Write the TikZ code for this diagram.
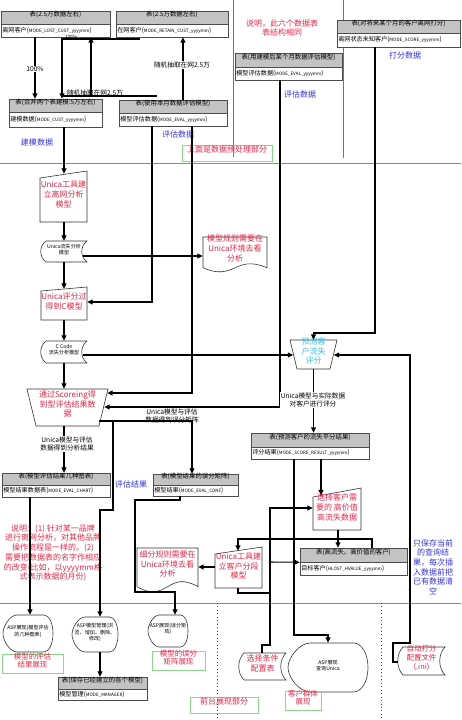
\documentclass[tikz,border=0pt]{standalone}
\usepackage{fontspec}
\setmainfont{Noto Sans CJK SC}
\usetikzlibrary{arrows.meta,fit,calc}
\definecolor{cred}{RGB}{226,40,72}
\definecolor{cblue}{RGB}{50,50,215}
\definecolor{cgreen}{RGB}{140,215,140}
\definecolor{ccyan}{RGB}{60,190,225}
\definecolor{cline}{RGB}{228,95,105}
\definecolor{cpurp}{RGB}{105,105,200}
\definecolor{chead}{RGB}{195,195,195}
\newcommand\mm[1]{{\fontsize{3.4}{4}\selectfont #1}}
\newcommand\TableBox[8]{%
  \node[thead,fit={(#2,#3)(#4,#5)}] (#1h) {#7};
  \node[tbody,fit={(#2,#5)(#4,#6)}] (#1) {};
  \node[tbtext,anchor=west] (#1t) at ([xshift=1pt]#1.west) {#8};}
\newcommand\MIShape[5]{\draw[outl] (#1,#2) -- (#3,#4) -- (#3,#5) -- (#1,#5) -- cycle;}
\newcommand\MOShape[6]{\draw[outl] (#1,#3) -- (#2,#3) -- (#5,#6) -- (#4,#6) -- cycle;}
\newcommand\StoredShape[4]{%
  \draw[outl] ({#1+5},#2) -- (#3,#2) .. controls ({#3-7},{#2+0.25*(#4-#2)}) and ({#3-7},{#4-0.25*(#4-#2)}) .. (#3,#4) -- ({#1+5},#4) .. controls ({#1-2},{#4-0.25*(#4-#2)}) and ({#1-2},{#2+0.25*(#4-#2)}) .. ({#1+5},#2) -- cycle;}
\newcommand\DocShape[4]{%
  \draw[outl] (#1,#2) -- (#3,#2) -- (#3,{#4-0.12*(#4-#2)}) .. controls ({(#1+#3)/2},{#4-0.52*(#4-#2)}) and ({(#1+#3)/2},{#4+0.28*(#4-#2)}) .. (#1,{#4-0.12*(#4-#2)}) -- cycle;}
\newcommand\DispShape[4]{%
  \draw[outl] (#1,{(#2+#4)/2}) .. controls (#1,{(#2+#4)/2-0.2*(#4-#2)}) and ({#1+0.14*(#3-#1)},#2) .. ({#1+0.28*(#3-#1)},#2) -- ({#3-0.18*(#3-#1)},#2) .. controls ({#3-0.08*(#3-#1)},#2) and (#3,{(#2+#4)/2-0.28*(#4-#2)}) .. (#3,{(#2+#4)/2}) .. controls (#3,{(#2+#4)/2+0.28*(#4-#2)}) and ({#3-0.08*(#3-#1)},#4) .. ({#3-0.18*(#3-#1)},#4) -- ({#1+0.28*(#3-#1)},#4) .. controls ({#1+0.14*(#3-#1)},#4) and (#1,{(#2+#4)/2+0.2*(#4-#2)}) .. (#1,{(#2+#4)/2}) -- cycle;}
\begin{document}
\begin{tikzpicture}[x=0.75pt,y=-0.75pt,
  thead/.style={draw=black!70,line width=0.4pt,fill=chead,inner sep=0pt,font=\fontsize{4.8}{5.5}\selectfont},
  tbody/.style={draw=black!70,line width=0.4pt,fill=white,inner sep=0pt},
  tbtext/.style={inner sep=0pt,font=\fontsize{4.6}{5.5}\selectfont},
  redtxt/.style={text=cred,align=center,font=\fontsize{6}{7.3}\selectfont,inner sep=0pt},
  cyantxt/.style={text=ccyan,align=center,font=\fontsize{6}{7.3}\selectfont,inner sep=0pt},
  bluetxt/.style={text=cblue,align=center,font=\fontsize{6}{7.2}\selectfont,inner sep=0pt},
  smalltxt/.style={align=center,font=\fontsize{3.8}{4.8}\selectfont,inner sep=0pt},
  outl/.style={draw=black!80,line width=0.45pt,fill=white},
  arr/.style={-{Triangle[length=4pt,width=3.6pt]},line width=0.8pt},
  conn/.style={line width=0.8pt},
  gbox/.style={draw=cgreen,line width=0.6pt,text=cred,align=center,font=\fontsize{5.6}{6.1}\selectfont,inner sep=0pt},
  lbl/.style={font=\fontsize{5}{6}\selectfont,align=center,inner sep=0.4pt}]
\useasboundingbox (0,0) rectangle (461,720);
% guide lines
\draw[cpurp,line width=0.5pt] (233,0) -- (233,157);
\draw[cpurp,line width=0.5pt] (343,0) -- (343,158);
\draw[cline,line width=0.5pt] (0,163) -- (461,163);
\draw[cline,line width=0.5pt] (0,603) -- (461,603);
\draw[cblue,dotted,line width=0.6pt] (217,603) -- (217,720);
\draw[cblue,dotted,line width=0.6pt] (381,603) -- (381,720);
% tables
\TableBox{b1}{1}{11}{110}{24}{37}{表(2.5万数据左右)}{离网客户(\mm{MODE\_LOST\_CUST\_yyyymm})}
\TableBox{b2}{116}{11}{228}{24}{37}{表(2.5万数据左右)}{在网客户(\mm{MODE\_RETAIN\_CUST\_yyyymm})}
\TableBox{b3}{9}{99}{102}{112}{127}{表(合并两个表建模:5万左右)}{建模数据(\mm{MODE\_CUST\_yyyymm})}
\TableBox{b4}{119}{100}{227}{113}{126}{表(使用本月数据评估模型)}{模型评估数据(\mm{MODE\_EVAL\_yyyymm})}
\TableBox{b5}{235}{53}{342}{67}{80}{表(用建模后某个月数据评估模型)}{模型评估数据(\mm{MODE\_EVAL\_yyyymm})}
\TableBox{b6}{337}{20}{460}{33}{47}{表(对将来某个月的客户离网打分)}{离网状态未知客户(\mm{MODE\_SCORE\_yyyymm})}
\TableBox{b7}{2}{473}{110}{485}{497}{表(模型评估结果几种图表)}{模型结果数据表(\mm{MODE\_EVAL\_CHART})}
\TableBox{b8}{153}{474}{238}{485}{496}{表(模型结果的误分矩阵)}{模型结果(\mm{MODE\_EVAL\_CONF})}
\TableBox{b9}{251}{433}{369}{447}{459}{表(预测客户的流失平分结果)}{评分结果(\mm{MODE\_SCORE\_RESULT\_yyyymm})}
\TableBox{b10}{300}{548}{407}{562}{575}{表(高流失、高价值的客户)}{目标客户(\mm{HLOST\_HVALUE\_yyyymm})}
\TableBox{b11}{58}{677}{147}{689}{700}{表(保存已经建立的各个模型)}{模型管理(\mm{MODE\_MANAGER})}
% shape outlines
\MIShape{40}{178}{87}{171}{222}
\StoredShape{41}{241}{87}{262}
\MIShape{41}{291}{87}{287}{320}
\StoredShape{41}{341}{87}{363}
\MOShape{27}{108}{389}{36}{99}{426}
\DocShape{203}{237}{267}{272}
\MOShape{290}{337}{340}{297}{330}{369}
\MIShape{313}{497}{361}{488}{530}
\MIShape{215}{554}{262}{547}{588}
\DocShape{137}{548}{198}{592}
\DispShape{3}{615}{53}{652}
\DispShape{72}{617}{118}{652}
\DispShape{148}{615}{188}{647}
\DispShape{288}{643}{368}{692}
\StoredShape{239}{653}{286}{680}
\StoredShape{398}{647}{445}{675}
% shape texts
\node[redtxt,fit={(40,174)(87,222)}] (u1) {Unica工具建\\立离网分析\\模型};
\node[smalltxt,fit={(41,241)(87,262)}] (s1) {Unica流失分析\\模型};
\node[redtxt,fit={(41,289)(87,320)}] (u2) {Unica评分过\\得到C模型};
\node[smalltxt,fit={(41,341)(87,363)}] (s2) {C Code\\流失分析模型};
\node[redtxt,fit={(27,389)(108,426)}] (sc) {通过Scoreing得\\到型评估结果数\\据};
\node[redtxt,fit={(203,237)(267,267)}] (doc1) {模型规则需要在\\Unica环境去看\\分析};
\node[cyantxt,fit={(290,340)(337,369)}] (p1) {预测客\\户流失\\评分};
\node[redtxt,fit={(313,492)(361,530)}] (sel) {选择客户需\\要的 高价值\\高流失数据};
\node[redtxt,fit={(215,551)(262,588)}] (u3) {Unica工具建\\立客户分段\\模型};
\node[redtxt,fit={(137,548)(198,587)}] (doc2) {细分规则需要在\\Unica环境去看\\分析};
\node[smalltxt,fit={(3,615)(53,652)}] (a1) {ASP展现(模型评估\\的几种图表)};
\node[smalltxt,fit={(72,617)(118,652)}] (a2) {ASP模型管理(浏\\览、增加、删除、\\修改)};
\node[smalltxt,fit={(148,615)(188,647)}] (a3) {ASP展现(误分矩\\阵)};
\node[smalltxt,fit={(288,643)(368,692)}] (a4) {ASP展现\\查询Unica};
\node[redtxt,fit={(239,653)(286,680)}] (selc) {选择条件\\配置表};
\node[redtxt,font=\fontsize{5.6}{6.6}\selectfont,fit={(398,647)(445,675)}] (ini) {自动打分\\配置文件\\(.ini)};
% free texts
\node[bluetxt] (t1) at (37,142) {建模数据};
\node[bluetxt] (t2) at (178,134) {评估数据};
\node[bluetxt] (t3) at (300,94) {评估数据};
\node[bluetxt] (t4) at (405,55) {打分数据};
\node[bluetxt] (t5) at (131,484) {评估结果};
\node[redtxt] (t6) at (282,28) {说明，此六个数据表\\表结构相同};
\node[gbox,font=\fontsize{6}{7}\selectfont,fit={(182,145)(272,161)}] (g1) {上面是数据预处理部分};
\node[redtxt] (t7) at (53,553) {说明：(1) 针对某一品牌\\进行离网分析，对其他品牌\\操作流程是一样的。(2)\\需要把数据表的名字作相应\\的改变(比如，以yyyymm格\\式表示数据的月份)};
\node[bluetxt] (t8) at (433,567) {只保存当前\\的查询结\\果，每次插\\入数据前把\\已有数据清\\空};
\node[gbox,fit={(2,654)(63,673)}] (g2) {模型的评估\\结果展现};
\node[gbox,fit={(152,651)(205,670)}] (g3) {模型的误分\\矩阵展现};
\node[gbox,font=\fontsize{6}{7}\selectfont,fit={(190,697)(258,713)}] (g4) {前台展现部分};
\node[gbox,fit={(285,691)(321,710)}] (g5) {客户群体\\展现};
% connectors top
\draw[arr] (b1.south -| 35,0) -- (b3h.north -| 35,0);
\node[lbl,fill=white] (l1) at (35,69) {100\%};
\coordinate (c2s) at (140,39);
\draw[arr] (c2s) -| (b3h.north -| 62,0);
\node[lbl,font=\fontsize{3.4}{4}\selectfont] (l2) at (71,37) {100\%};
\coordinate (c3a) at (62,96);
\coordinate (c3b) at (157,96);
\draw[conn] (c3a) -- (c3b);
\draw[arr] (c3a -| 91,0) -- (b1.south -| 91,0);
\node[lbl] (l3) at (95,92.5) {随机抽取在网2.5万};
\draw[arr] (b4h.north -| 183,0) -- (b2.south -| 183,0);
\node[lbl,fill=white] (l4) at (182,65) {随机抽取在网2.5万};
\draw[arr] (b4.south -| 152,0) |- (u2.east |- 0,302);
\draw[arr] (b4.south -| 192,0) |- ($(sc.east |- 0,393)+(-1,0)$);
\draw[arr] (b5.south -| 280,0) |- ($(sc.east |- 0,407)+(-4,0)$);
\coordinate (c8v) at (375,333);
\draw[arr] (b6.south -| 375,0) -- (c8v) -| (p1.north);
% left chain
\draw[arr] (b3.south -| 64,0) -- (u1.north -| 64,0);
\draw[arr] (u1.south -| 64,0) -- (s1.north -| 64,0);
\draw[arr] ($(s1.east |- 0,256)+(-4,0)$) -- (doc1.west |- 0,256);
\draw[arr] (s1.south -| 64,0) -- (u2.north -| 64,0);
\draw[arr] (u2.south -| 64,0) -- (s2.north -| 64,0);
\draw[arr] ($(s2.east |- 0,355)+(-4,0)$) -- ($(p1.west |- 0,355)+(3.5,0)$);
\draw[arr] (s2.south -| 64,0) -- (sc.north -| 64,0);
\draw[arr] (sc.south -| 64,0) -- (b7h.north -| 64,0);
\node[lbl,fill=white] (l5) at (67,444) {Unica模型与评估\\数据得到分析结果};
\draw[arr] ($(sc.east |- 0,421)+(-9,0)$) -| (b8h.north -| 192,0);
\node[lbl] (l6) at (172,416) {Unica模型与评估\\数据得到误分矩阵};
\coordinate (j2) at (113,421);
\coordinate (j2b) at (113,510);
\draw[arr] (j2) -- (j2b) -| (a2.north -| 100,0);
\fill (j2) circle (1.2);
\draw[arr] (b7.south -| 30,0) -- (a1.north -| 30,0);
\coordinate (k1) at (180,500);
\coordinate (k2) at (135,500);
\coordinate (k3) at (135,592);
\draw[arr] (b8.south -| 180,0) -- (k1) -- (k2) -- (k3) -| (a3.north -| 175,0);
\draw[arr] (a2.south -| 100,0) -- (b11h.north -| 100,0);
% right chain
\coordinate (m1) at (393,662);
\coordinate (m2) at (393,643);
\coordinate (m3) at (410,643);
\coordinate (m4) at (410,355);
\draw[arr] (ini.west |- 0,662) -- (m1) -- (m2) -- (m3) -- (m4) -- ($(p1.east |- 0,355)+(-3.5,0)$);
\draw[arr] (p1.south) -- (b9h.north -| p1.south);
\node[lbl,fill=white] (l7) at (313,400) {Unica模型与实际数据\\对客户进行评分};
\draw[arr] (b9.south -| 321,0) -- ($(sel.north -| 321,0)+(0,3.5)$);
\coordinate (n1) at (294,635);
\draw[arr] (b9.south -| 294,0) -- (n1) -| (a4.north -| 328,0);
\coordinate (q1) at (262,645);
\coordinate (q2) at (270,645);
\coordinate (q3) at (270,508);
\draw[arr] (selc.north -| 262,0) -- (q1) -- (q2) -- (q3) -- (sel.west |- q3);
\coordinate (q4) at (270,562);
\draw[arr] (q4) -- (b10h.south west);
\fill (q4) circle (1.2);
\draw[arr] (sel.south -| 338,0) -- (b10h.north -| 338,0);
\coordinate (r1) at (372,539);
\draw[arr] (b10h.north -| 372,0) -- (r1) -| (u3.north -| 238,0);
\draw[arr] (u3.west |- 0,567) -- (doc2.east |- 0,567);
\coordinate (r2) at (238,593);
\coordinate (r3) at (270,593);
\draw[conn] (u3.south -| 238,0) -- (r2) -- (r3);
\fill (r3) circle (1.2);
\end{tikzpicture}
\end{document}
